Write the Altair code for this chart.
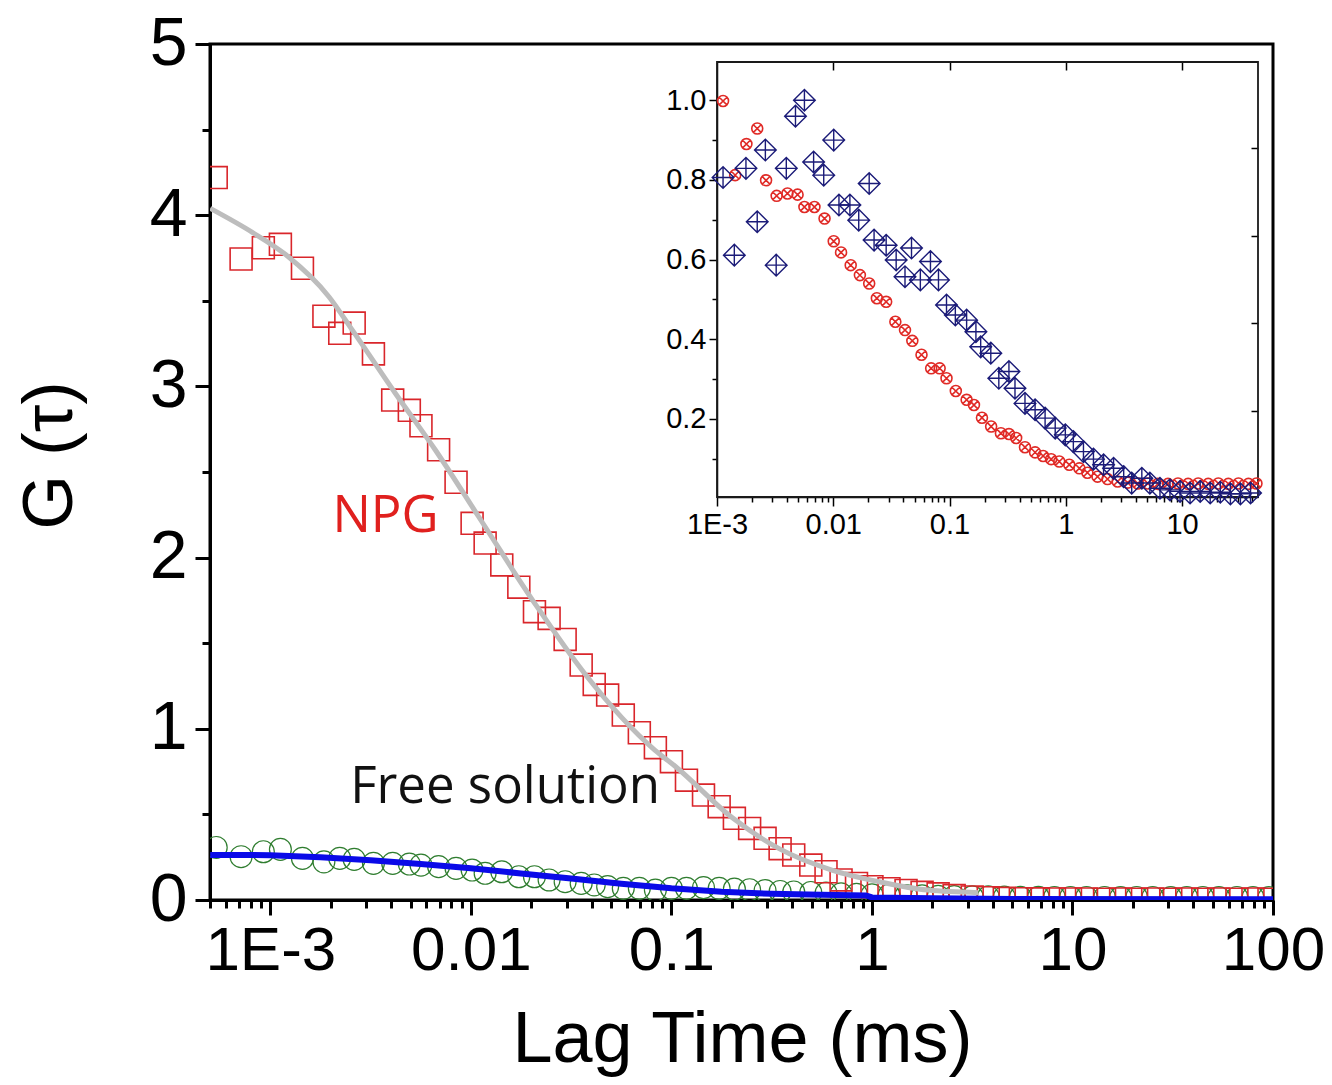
import altair as alt
import pandas as pd

# ---------------- main panel data (lag time as log10(ms)) ----------------
main_log_tau = [-3.27, -3.146, -3.035, -2.95, -2.84, -2.733, -2.654, -2.582, -2.486, -2.39,
                -2.307, -2.249, -2.161, -2.074, -1.994, -1.929, -1.846, -1.761, -1.683, -1.61,
                -1.53, -1.45, -1.385, -1.318, -1.24, -1.16, -1.08, -1.0, -0.925, -0.84,
                -0.762, -0.686, -0.61, -0.533, -0.458, -0.39, -0.305, -0.229, -0.154, -0.077,
                0.0, 0.085, 0.17, 0.25, 0.33, 0.41, 0.5, 0.58, 0.66, 0.74,
                0.83, 0.91, 0.99, 1.07, 1.16, 1.24, 1.32, 1.40, 1.49, 1.57,
                1.65, 1.73, 1.82, 1.90, 1.98]
npg_g = [4.22, 3.744, 3.81, 3.83, 3.69, 3.41, 3.31, 3.37, 3.19, 2.92,
         2.86, 2.77, 2.63, 2.44, 2.20, 2.085, 1.957, 1.827, 1.684, 1.645,
         1.522, 1.372, 1.259, 1.197, 1.08, 0.977, 0.89, 0.808, 0.70, 0.613,
         0.545, 0.477, 0.418, 0.36, 0.30, 0.263, 0.204, 0.165, 0.117, 0.097,
         0.078, 0.066, 0.056, 0.045, 0.036, 0.026, 0.018, 0.013, 0.010, 0.008,
         0.007, 0.006, 0.006, 0.006, 0.005, 0.006, 0.005, 0.006, 0.005, 0.006,
         0.005, 0.006, 0.005, 0.006, 0.005]
free_g = [0.307, 0.253, 0.282, 0.296, 0.243, 0.223, 0.243, 0.237, 0.214, 0.214,
          0.21, 0.204, 0.195, 0.185, 0.175, 0.156, 0.165, 0.136, 0.136, 0.117,
          0.107, 0.097, 0.088, 0.078, 0.068, 0.068, 0.058, 0.068, 0.068, 0.072,
          0.068, 0.064, 0.06, 0.055, 0.05, 0.047, 0.044, 0.04, 0.036, 0.033,
          0.03, 0.028, 0.026, 0.024, 0.022, 0.02, 0.019, 0.018, 0.017, 0.016,
          0.016, 0.015, 0.015, 0.015, 0.015, 0.014, 0.015, 0.015, 0.014, 0.015,
          0.015, 0.014, 0.015, 0.015, 0.014]

fit_log_tau = [-3.30, -3.09, -2.924, -2.708, -2.592, -2.377, -2.178, -1.962, -1.68,
               -1.431, -1.083, -0.98, -0.696, -0.463, -0.2, 0.035, 0.28, 0.53]
fit_g = [4.04, 3.90, 3.77, 3.524, 3.33, 2.96, 2.63, 2.24, 1.73,
         1.32, 0.876, 0.78, 0.48, 0.30, 0.175, 0.107, 0.058, 0.043]

blue_log_tau = [-3.30, -3.0, -2.75, -2.5, -2.25, -2.0, -1.75, -1.5, -1.25,
                -1.0, -0.75, -0.5, -0.25, -0.03, 0.0, 0.3, 0.7, 2.0]
blue_g = [0.263, 0.262, 0.25, 0.232, 0.21, 0.185, 0.155, 0.125, 0.095,
          0.068, 0.048, 0.036, 0.03, 0.027, 0.015, 0.01, 0.006, 0.005]

label_text = ["NPG", "Free solution"]
label_tau = [0.00204, 0.0025]
label_g = [2.151, 0.567]
label_color = ["#e0201e", "#111111"]

# ---------------- inset data (normalised) ----------------
inset_red_log = [-2.948, -2.844, -2.747, -2.654, -2.578, -2.487, -2.394, -2.307, -2.248, -2.162,
                 -2.075, -1.996, -1.933, -1.85, -1.771, -1.691, -1.625, -1.545, -1.466, -1.383,
                 -1.32, -1.241, -1.158, -1.085, -1.026, -0.946, -0.853, -0.79, -0.721, -0.642,
                 -0.558, -0.489, -0.427, -0.351, -0.264, -0.195, -0.126, -0.056, 0.03, 0.117,
                 0.186, 0.273, 0.359, 0.446, 0.532, 0.619, 0.706, 0.792, 0.879, 0.965,
                 1.052, 1.139, 1.225, 1.312, 1.398, 1.485, 1.571, 1.64]
inset_red_g = [0.998, 0.812, 0.890, 0.929, 0.799, 0.760, 0.766, 0.763, 0.732, 0.732,
               0.703, 0.646, 0.618, 0.586, 0.561, 0.540, 0.503, 0.494, 0.444, 0.423,
               0.396, 0.361, 0.327, 0.327, 0.302, 0.270, 0.248, 0.235, 0.203, 0.181,
               0.164, 0.162, 0.152, 0.129, 0.116, 0.107, 0.099, 0.093, 0.085, 0.076,
               0.065, 0.055, 0.049, 0.043, 0.040, 0.038, 0.038, 0.037, 0.037, 0.038,
               0.037, 0.038, 0.037, 0.038, 0.037, 0.038, 0.037, 0.038]
inset_blue_log = [-2.948, -2.851, -2.751, -2.654, -2.584, -2.491, -2.404, -2.325, -2.248, -2.169,
                  -2.082, -1.996, -1.951, -1.857, -1.781, -1.691, -1.649, -1.545, -1.459, -1.383,
                  -1.327, -1.251, -1.164, -1.095, -1.026, -0.95, -0.853, -0.773, -0.732, -0.645,
                  -0.576, -0.489, -0.437, -0.351, -0.264, -0.178, -0.091, -0.004, 0.065, 0.152,
                  0.238, 0.325, 0.411, 0.498, 0.567, 0.654, 0.723, 0.81, 0.896, 0.983,
                  1.069, 1.156, 1.242, 1.329, 1.416, 1.502, 1.589]
inset_blue_g = [0.806, 0.611, 0.829, 0.695, 0.875, 0.586, 0.829, 0.960, 1.0, 0.845,
                0.812, 0.9, 0.737, 0.737, 0.699, 0.791, 0.649, 0.636, 0.599, 0.557,
                0.629, 0.549, 0.595, 0.549, 0.486, 0.461, 0.448, 0.419, 0.381, 0.365,
                0.302, 0.319, 0.277, 0.239, 0.223, 0.202, 0.177, 0.16, 0.143, 0.118,
                0.099, 0.085, 0.076, 0.055, 0.039, 0.051, 0.039, 0.026, 0.022, 0.018,
                0.014, 0.018, 0.014, 0.016, 0.012, 0.012, 0.014]

# ---------------- axis tick definitions ----------------
main_x_major = [0.001, 0.01, 0.1, 1, 10, 100]
main_y_ticks = [0, 0.5, 1, 1.5, 2, 2.5, 3, 3.5, 4, 4.5, 5]
inset_x_major = [0.001, 0.01, 0.1, 1, 10]
inset_y_ticks = [0.1, 0.2, 0.3, 0.4, 0.5, 0.6, 0.7, 0.8, 0.9, 1.0]
inset_top_ticks = [0.01, 0.1, 1, 10]
inset_right_ticks = [0.22, 0.44, 0.66, 0.88]

decades = [1e-4, 1e-3, 1e-2, 1e-1, 1, 10]
main_x_minor = [round(m * d, 8) for d in decades for m in range(2, 10) if 5e-4 <= round(m * d, 8) < 100]
inset_x_minor = [round(m * d, 8) for d in decades for m in range(2, 10) if 1e-3 < round(m * d, 8) < 45]
main_x_ticks = sorted(main_x_major + main_x_minor)
inset_x_ticks = sorted(inset_x_major + inset_x_minor)

# ---------------- data frames ----------------
npg_df = pd.DataFrame({"tau": [10 ** v for v in main_log_tau], "g": npg_g})
free_df = pd.DataFrame({"tau": [10 ** v for v in main_log_tau], "g": free_g})
fit_df = pd.DataFrame({"tau": [10 ** v for v in fit_log_tau], "g": fit_g})
blue_df = pd.DataFrame({"tau": [10 ** v for v in blue_log_tau], "g": blue_g})
lab_df = pd.DataFrame({"tau": label_tau, "g": label_g, "text": label_text, "color": label_color})
red_in_df = pd.DataFrame({"tau": [10 ** v for v in inset_red_log], "g": inset_red_g})
blue_in_df = pd.DataFrame({"tau": [10 ** v for v in inset_blue_log], "g": inset_blue_g})
frame_df = pd.DataFrame({"tau": [0.001], "tau2": [45], "g": [0.004], "g2": [1.096]})

FONT = "Liberation Sans"

# ---------------- main scales/axes ----------------
x_main_axis = alt.Axis(
    values=main_x_ticks,
    labelExpr="datum.value === 0.001 ? '1E-3' : (indexof([0.01,0.1,1,10,100], datum.value) >= 0 ? '' + datum.value : '')",
    tickSize={"condition": {"test": "indexof([0.001,0.01,0.1,1,10,100], datum.value) >= 0", "value": 15}, "value": 8},
    tickWidth=3, domainWidth=3, labelFontSize=62, labelPadding=5,
    labelFlush=False, labelOverlap=False, labelBound=False,
    title="Lag Time (ms)", titleFontSize=72, titleFontWeight="normal",
    titleX=532, titleY=161, titleAlign="center", titleBaseline="alphabetic",
)
y_main_axis = alt.Axis(
    values=main_y_ticks,
    labelExpr="datum.value % 1 === 0 ? '' + datum.value : ''",
    tickSize={"condition": {"test": "datum.value % 1 === 0", "value": 15}, "value": 8},
    tickWidth=3, domainWidth=3, labelFontSize=68, labelPadding=8,
    labelFlush=False, labelOverlap=False, labelBound=False,
    title="G (τ)", titleFontSize=70, titleFontWeight="normal",
    titleAngle=270, titleX=-160, titleY=411, titleAlign="center", titleBaseline="middle",
)
x_main_scale = alt.Scale(type="log", domain=[5e-4, 100], nice=False)
y_main_scale = alt.Scale(domain=[0, 5], nice=False, zero=False)


def xm():
    return alt.X("tau:Q", scale=x_main_scale, axis=x_main_axis)


def ym():
    return alt.Y("g:Q", scale=y_main_scale, axis=y_main_axis)


circles = alt.Chart(free_df).mark_point(
    shape="circle", size=480, filled=False, stroke="#2f7d2f", strokeWidth=1.2, opacity=1, clip=True
).encode(x=xm(), y=ym())
squares = alt.Chart(npg_df).mark_point(
    shape="square", size=480, filled=False, stroke="#d9262b", strokeWidth=1.6, opacity=1, clip=True
).encode(x=xm(), y=ym())
fit_line = alt.Chart(fit_df).mark_line(
    color="#bdbdbd", strokeWidth=5, interpolate="monotone", clip=True
).encode(x=xm(), y=ym())
blue_line = alt.Chart(blue_df).mark_line(
    color="#0a0ae8", strokeWidth=6, clip=True
).encode(x=xm(), y=ym())
texts = alt.Chart(lab_df).mark_text(
    font="Open Sans", fontSize=51, align="left", baseline="alphabetic"
).encode(x=xm(), y=ym(), text="text:N", color=alt.Color("color:N", scale=None))

main = alt.layer(circles, squares, fit_line, blue_line, texts)

# ---------------- inset scales/axes ----------------
x_in_scale = alt.Scale(type="log", domain=[0.001, 45], range=[507, 1048], nice=False)
y_in_scale = alt.Scale(domain=[0.004, 1.096], range=[453, 18], nice=False, zero=False)
x_in_axis = alt.Axis(
    orient="bottom", offset=-403, values=inset_x_ticks,
    labelExpr="datum.value === 0.001 ? '1E-3' : (indexof([0.01,0.1,1,10], datum.value) >= 0 ? '' + datum.value : '')",
    tickSize={"condition": {"test": "indexof([0.001,0.01,0.1,1,10], datum.value) >= 0", "value": 9}, "value": 5},
    tickWidth=1.5, domainWidth=1.5, labelFontSize=29, labelPadding=4,
    labelFlush=False, labelOverlap=False, labelBound=False, title=None,
)
y_in_axis = alt.Axis(
    orient="left", offset=-507, values=inset_y_ticks,
    labelExpr="indexof([0.2,0.4,0.6,0.8,1], datum.value) >= 0 ? format(datum.value, '.1f') : ''",
    tickSize={"condition": {"test": "indexof([0.2,0.4,0.6,0.8,1], datum.value) >= 0", "value": 8}, "value": 5},
    tickWidth=1.5, domainWidth=1.5, labelFontSize=29, labelPadding=3,
    labelFlush=False, labelOverlap=False, labelBound=False, title=None,
)


def xi(field="tau:Q"):
    return alt.X(field, scale=x_in_scale, axis=x_in_axis)


def yi(field="g:Q"):
    return alt.Y(field, scale=y_in_scale, axis=y_in_axis)


frame = alt.Chart(frame_df).mark_rect(
    fillOpacity=0, stroke="#1a1a1a", strokeWidth=1.8
).encode(x=xi(), x2="tau2", y=yi(), y2="g2")

OTIMES = "M-1,0A1,1,0,1,1,1,0A1,1,0,1,1,-1,0ZM-0.7,-0.7L0.7,0.7M-0.7,0.7L0.7,-0.7"
DIAMOND_PLUS = "M0,-1L1,0L0,1L-1,0ZM0,-1L0,1M-1,0L1,0"

red_pts = alt.Chart(red_in_df).mark_point(
    shape=OTIMES, size=120, filled=False, stroke="#e02a26", strokeWidth=1.6, opacity=1
).encode(x=xi(), y=yi())
blue_pts = alt.Chart(blue_in_df).mark_point(
    shape=DIAMOND_PLUS, size=470, filled=False, stroke="#1b1b78", strokeWidth=1.4, opacity=1
).encode(x=xi(), y=yi())

inset = alt.layer(frame, red_pts, blue_pts)

top_ticks = alt.Chart(red_in_df).mark_point(opacity=0).encode(
    x=alt.X("tau:Q", scale=x_in_scale,
            axis=alt.Axis(orient="top", offset=-26, values=inset_top_ticks, labels=False,
                          domain=False, tickSize=8, tickWidth=1.5, title=None)),
    y=alt.value(0),
)
right_ticks = alt.Chart(red_in_df).mark_point(opacity=0).encode(
    y=alt.Y("g:Q", scale=y_in_scale,
            axis=alt.Axis(orient="right", offset=-22, values=inset_right_ticks, labels=False,
                          domain=False, tickSize=7, tickWidth=1.5, title=None)),
    x=alt.value(0),
)

chart = alt.layer(main, inset, top_ticks, right_ticks).resolve_scale(
    x="independent", y="independent"
).properties(
    width=1063, height=856,
    autosize=alt.AutoSizeParams(type="none"),
    padding={"left": 202, "top": 36, "right": 51, "bottom": 177},
).configure_view(
    stroke="black", strokeWidth=3
).configure_axis(
    grid=False, labelFont=FONT, titleFont=FONT, domainColor="black", tickColor="black",
    labelColor="black", titleColor="black"
)

chart.save("out.html", embed_options={"renderer": "svg", "actions": False})
